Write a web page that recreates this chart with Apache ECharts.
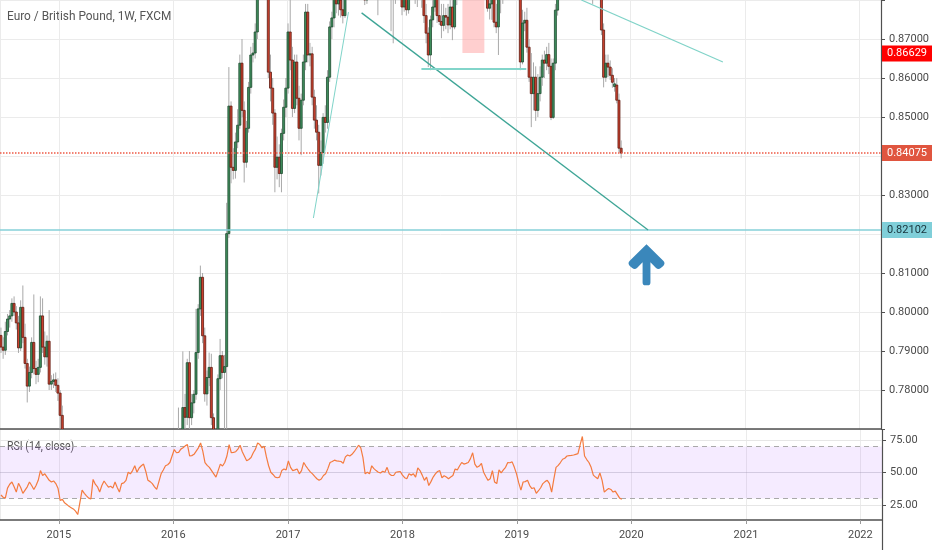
<!DOCTYPE html>
<html>
<head>
<meta charset="utf-8">
<script src="https://cdn.jsdelivr.net/npm/echarts@6/dist/echarts.min.js"></script>
<style>
html,body{margin:0;padding:0;background:#ffffff;}
#chart{width:932px;height:550px;}
</style>
</head>
<body>
<div id="chart"></div>
<script>
// ---------- DATA ----------
// first weekly bar (week starting Monday) ; one bar per week afterwards
const firstWeek = '2014-06-30';
const chartTitle = 'Euro / British Pound, 1W, FXCM';
const rsiTitle = 'RSI (14, close)';

// weekly candles: [open, close, low, high]
const ohlc2014 = [
[0.7940,0.7910,0.7895,0.7960],[0.7910,0.7902,0.7880,0.7935],[0.7902,0.7950,0.7890,0.7975],[0.7950,0.7982,0.7940,0.7995],
[0.7982,0.7990,0.7960,0.8005],[0.7990,0.8022,0.7975,0.8035],[0.8022,0.8000,0.7990,0.8040],[0.8000,0.7972,0.7955,0.8015],
[0.7972,0.7908,0.7895,0.7990],[0.7908,0.8012,0.7900,0.8030],[0.8012,0.7935,0.7920,0.8068],[0.7935,0.7868,0.7855,0.7970],
[0.7868,0.7810,0.7768,0.7880],[0.7810,0.7845,0.7795,0.7860],[0.7845,0.7922,0.7830,0.7935],[0.7922,0.7855,0.7840,0.8045],
[0.7855,0.7840,0.7815,0.7875],[0.7840,0.7858,0.7820,0.7880],[0.7858,0.7990,0.7845,0.8040],[0.7990,0.7910,0.7895,0.8035],
[0.7910,0.7885,0.7865,0.7950],[0.7885,0.7925,0.7860,0.7940],[0.7925,0.7815,0.7800,0.8005],[0.7815,0.7822,0.7800,0.7838],
[0.7822,0.7826,0.7805,0.7842],[0.7826,0.7812,0.7795,0.7845],[0.7812,0.7792,0.7772,0.7830]
];
const ohlc2015 = [
[0.7792,0.7735,0.7690,0.7800],[0.7735,0.7625,0.7600,0.7760],[0.7625,0.7460,0.7435,0.7650],[0.7460,0.7505,0.7410,0.7560],
[0.7505,0.7435,0.7400,0.7520],[0.7435,0.7390,0.7355,0.7455],[0.7390,0.7370,0.7330,0.7420],[0.7370,0.7270,0.7240,0.7385],
[0.7270,0.7195,0.7180,0.7295],[0.7195,0.7100,0.7070,0.7210],[0.7100,0.7330,0.7090,0.7360],[0.7330,0.7330,0.7260,0.7390],
[0.7330,0.7250,0.7200,0.7380],[0.7250,0.7180,0.7140,0.7290],[0.7180,0.7190,0.7090,0.7220],[0.7190,0.7140,0.7120,0.7240],
[0.7140,0.7370,0.7130,0.7400],[0.7370,0.7180,0.7150,0.7410],[0.7180,0.7210,0.7140,0.7310],[0.7210,0.7090,0.7070,0.7230],
[0.7090,0.7150,0.7020,0.7170],[0.7150,0.7260,0.7130,0.7400],[0.7260,0.7220,0.7180,0.7300],[0.7220,0.7140,0.7120,0.7260],
[0.7140,0.7100,0.7070,0.7190],[0.7100,0.7070,0.7050,0.7150],[0.7070,0.7150,0.7040,0.7240],[0.7150,0.6980,0.6960,0.7160],
[0.6980,0.7080,0.6940,0.7100],[0.7080,0.7040,0.7010,0.7120],[0.7040,0.7060,0.7020,0.7100],[0.7060,0.7130,0.7050,0.7170],
[0.7130,0.7280,0.7120,0.7300],[0.7280,0.7280,0.7250,0.7490],[0.7280,0.7360,0.7240,0.7380],[0.7360,0.7320,0.7290,0.7380],
[0.7320,0.7380,0.7260,0.7420],[0.7380,0.7320,0.7310,0.7420],[0.7320,0.7380,0.7300,0.7400],[0.7380,0.7350,0.7300,0.7420],
[0.7350,0.7400,0.7330,0.7490],[0.7400,0.7180,0.7170,0.7420],[0.7180,0.7170,0.7130,0.7240],[0.7170,0.7150,0.7100,0.7210],
[0.7150,0.7060,0.7040,0.7170],[0.7060,0.7040,0.7000,0.7080],[0.7040,0.7060,0.7010,0.7090],[0.7060,0.7250,0.7030,0.7290],
[0.7250,0.7220,0.7190,0.7310],[0.7220,0.7280,0.7200,0.7320],[0.7280,0.7340,0.7260,0.7350],[0.7340,0.7370,0.7300,0.7400]
];
const ohlc2016 = [
[0.7370,0.7450,0.7340,0.7470],[0.7450,0.7600,0.7420,0.7660],[0.7600,0.7610,0.7540,0.7755],[0.7610,0.7640,0.7580,0.7690],
[0.7640,0.7755,0.7610,0.7899],[0.7755,0.7730,0.7700,0.7790],[0.7730,0.7870,0.7710,0.7880],[0.7870,0.7729,0.7700,0.7900],
[0.7729,0.7767,0.7710,0.7790],[0.7767,0.7789,0.7740,0.7800],[0.7789,0.7896,0.7775,0.8008],[0.7896,0.8008,0.7880,0.8020],
[0.8008,0.8089,0.7990,0.8119],[0.8089,0.7939,0.7920,0.8100],[0.7939,0.7790,0.7770,0.7960],[0.7790,0.7832,0.7760,0.7850],
[0.7832,0.7858,0.7810,0.7896],[0.7858,0.7729,0.7710,0.7893],[0.7729,0.7640,0.7600,0.7740],[0.7640,0.7610,0.7560,0.7680],
[0.7610,0.7829,0.7600,0.7840],[0.7829,0.7888,0.7800,0.7931],[0.7888,0.7845,0.7830,0.7900],[0.7845,0.7860,0.7700,0.7890],
[0.7860,0.8201,0.7600,0.8280],[0.8201,0.8528,0.8190,0.8628],[0.8528,0.8371,0.8330,0.8540],[0.8371,0.8363,0.8340,0.8420],
[0.8363,0.8436,0.8342,0.8460],[0.8436,0.8479,0.8420,0.8520],[0.8479,0.8638,0.8470,0.8660],[0.8638,0.8517,0.8500,0.8700],
[0.8517,0.8384,0.8332,0.8540],[0.8384,0.8471,0.8370,0.8490],[0.8471,0.8576,0.8460,0.8590],[0.8576,0.8659,0.8560,0.8680],
[0.8659,0.8664,0.8640,0.8690],[0.8664,0.8718,0.8650,0.8740],[0.8718,0.8960,0.8700,0.9000],[0.8960,0.9010,0.8920,0.9400],
[0.9010,0.8920,0.8880,0.9070],[0.8920,0.9020,0.8900,0.9050],[0.9020,0.8930,0.8860,0.9050],[0.8930,0.8615,0.8600,0.8960],
[0.8615,0.8574,0.8540,0.8660],[0.8574,0.8510,0.8480,0.8600],[0.8510,0.8371,0.8307,0.8520],[0.8371,0.8397,0.8340,0.8450],
[0.8397,0.8355,0.8320,0.8430],[0.8355,0.8458,0.8307,0.8470],[0.8458,0.8525,0.8440,0.8545],[0.8525,0.8574,0.8500,0.8600]
];
const ohlc2017 = [
[0.8574,0.8718,0.8560,0.8740],[0.8718,0.8646,0.8620,0.8850],[0.8646,0.8522,0.8500,0.8680],[0.8522,0.8641,0.8510,0.8660],
[0.8641,0.8548,0.8530,0.8660],[0.8548,0.8471,0.8440,0.8580],[0.8471,0.8543,0.8402,0.8560],[0.8543,0.8641,0.8530,0.8660],
[0.8641,0.8769,0.8620,0.8790],[0.8769,0.8659,0.8640,0.8790],[0.8659,0.8662,0.8630,0.8690],[0.8662,0.8551,0.8530,0.8680],
[0.8551,0.8492,0.8470,0.8570],[0.8492,0.8461,0.8440,0.8530],[0.8461,0.8376,0.8304,0.8480],[0.8376,0.8409,0.8350,0.8440],
[0.8409,0.8499,0.8380,0.8510],[0.8499,0.8486,0.8460,0.8530],[0.8486,0.8602,0.8470,0.8620],[0.8602,0.8731,0.8590,0.8745],
[0.8731,0.8754,0.8700,0.8770],[0.8754,0.8830,0.8730,0.8860],[0.8830,0.8790,0.8766,0.8850],[0.8790,0.8800,0.8760,0.8830],
[0.8800,0.8775,0.8755,0.8830],[0.8775,0.8760,0.8740,0.8810],[0.8760,0.8850,0.8754,0.8870],[0.8850,0.8880,0.8820,0.8900],
[0.8880,0.8860,0.8830,0.8910],[0.8860,0.8900,0.8840,0.8920],[0.8900,0.8950,0.8870,0.8980],[0.8950,0.9060,0.8930,0.9080],
[0.9060,0.9150,0.9030,0.9170],[0.9150,0.9120,0.9060,0.9240],[0.9120,0.8960,0.8920,0.9160],[0.8960,0.8800,0.8787,0.8990],
[0.8800,0.8830,0.8790,0.8870],[0.8830,0.8820,0.8800,0.8880],[0.8820,0.8950,0.8810,0.8970],[0.8950,0.8910,0.8880,0.8990],
[0.8910,0.8900,0.8860,0.8950],[0.8900,0.8880,0.8761,0.8930],[0.8880,0.8870,0.8840,0.8920],[0.8870,0.8920,0.8850,0.8940],
[0.8920,0.8900,0.8870,0.8940],[0.8900,0.8980,0.8880,0.9000],[0.8980,0.8850,0.8820,0.9000],[0.8850,0.8810,0.8720,0.8870],
[0.8810,0.8820,0.8689,0.8850],[0.8820,0.8870,0.8790,0.8890],[0.8870,0.8880,0.8840,0.8910],[0.8880,0.8885,0.8850,0.8920]
];
const ohlc2018 = [
[0.8885,0.8782,0.8761,0.8920],[0.8782,0.8810,0.8770,0.8850],[0.8810,0.8775,0.8760,0.8850],[0.8775,0.8840,0.8765,0.8880],
[0.8840,0.8830,0.8800,0.8900],[0.8830,0.8850,0.8810,0.8890],[0.8850,0.8810,0.8790,0.8880],[0.8810,0.8880,0.8782,0.8900],
[0.8880,0.8850,0.8820,0.8910],[0.8850,0.8810,0.8780,0.8880],[0.8810,0.8760,0.8741,0.8830],[0.8760,0.8715,0.8689,0.8790],
[0.8715,0.8659,0.8628,0.8730],[0.8659,0.8749,0.8620,0.8760],[0.8749,0.8782,0.8730,0.8800],[0.8782,0.8830,0.8770,0.8850],
[0.8830,0.8760,0.8741,0.8850],[0.8760,0.8745,0.8736,0.8800],[0.8745,0.8735,0.8702,0.8790],[0.8735,0.8760,0.8720,0.8790],
[0.8760,0.8756,0.8725,0.8780],[0.8756,0.8736,0.8715,0.8790],[0.8736,0.8782,0.8725,0.8800],[0.8782,0.8731,0.8697,0.8800],
[0.8731,0.8810,0.8725,0.8830],[0.8810,0.8850,0.8787,0.8870],[0.8850,0.8870,0.8830,0.8900],[0.8870,0.8900,0.8850,0.8930],
[0.8900,0.8880,0.8840,0.8930],[0.8880,0.8900,0.8860,0.8940],[0.8900,0.8950,0.8880,0.8970],[0.8950,0.9020,0.8930,0.9050],
[0.9020,0.9090,0.9000,0.9110],[0.9090,0.8990,0.8960,0.9100],[0.8990,0.8960,0.8930,0.9030],[0.8960,0.8990,0.8940,0.9020],
[0.8990,0.9010,0.8950,0.9040],[0.9010,0.8920,0.8890,0.9030],[0.8920,0.8860,0.8830,0.8950],[0.8860,0.8779,0.8770,0.8890],
[0.8779,0.8790,0.8750,0.8830],[0.8790,0.8850,0.8749,0.8870],[0.8850,0.8743,0.8730,0.8870],[0.8743,0.8731,0.8715,0.8790],
[0.8731,0.8830,0.8659,0.8850],[0.8830,0.8810,0.8766,0.8860],[0.8810,0.8870,0.8790,0.8890],[0.8870,0.8920,0.8840,0.8950],
[0.8920,0.8990,0.8890,0.9010],[0.8990,0.8960,0.8940,0.9030],[0.8960,0.9010,0.8940,0.9040],[0.9010,0.8970,0.8940,0.9030],
[0.8970,0.8990,0.8930,0.9010]
];
const ohlc2019 = [
[0.8990,0.8870,0.8840,0.9030],[0.8870,0.8641,0.8620,0.8890],[0.8641,0.8741,0.8635,0.8775],[0.8741,0.8748,0.8720,0.8770],
[0.8748,0.8679,0.8665,0.8780],[0.8679,0.8602,0.8590,0.8700],[0.8602,0.8560,0.8474,0.8664],[0.8560,0.8602,0.8517,0.8640],
[0.8602,0.8517,0.8490,0.8630],[0.8517,0.8560,0.8500,0.8610],[0.8560,0.8602,0.8540,0.8630],[0.8602,0.8646,0.8580,0.8660],
[0.8646,0.8638,0.8600,0.8670],[0.8638,0.8660,0.8620,0.8680],[0.8660,0.8630,0.8610,0.8690],[0.8630,0.8499,0.8492,0.8650],
[0.8499,0.8638,0.8495,0.8650],[0.8638,0.8774,0.8620,0.8790],[0.8774,0.8830,0.8760,0.8850],[0.8830,0.8870,0.8810,0.8890],
[0.8870,0.8900,0.8850,0.8930],[0.8900,0.8920,0.8870,0.8950],[0.8920,0.8960,0.8890,0.8990],[0.8960,0.8970,0.8920,0.9000],
[0.8970,0.8980,0.8930,0.9010],[0.8980,0.8990,0.8940,0.9020],[0.8990,0.9010,0.8950,0.9040],[0.9010,0.9030,0.8970,0.9060],
[0.9030,0.9160,0.9010,0.9180],[0.9160,0.9290,0.9140,0.9325],[0.9290,0.9110,0.9080,0.9300],[0.9110,0.9050,0.9010,0.9150],
[0.9050,0.8990,0.8960,0.9080],[0.8990,0.8900,0.8880,0.9040],[0.8900,0.8820,0.8790,0.8930],[0.8820,0.8840,0.8800,0.8880],
[0.8840,0.8830,0.8800,0.8870],[0.8830,0.8950,0.8815,0.8980],[0.8950,0.8723,0.8710,0.8970],[0.8723,0.8602,0.8576,0.8740],
[0.8602,0.8638,0.8590,0.8660],[0.8638,0.8628,0.8602,0.8660],[0.8628,0.8607,0.8595,0.8645],[0.8607,0.8589,0.8575,0.8625],
[0.8578,0.8585,0.8565,0.8600],[0.8582,0.8543,0.8535,0.8600],[0.8543,0.8420,0.8410,0.8560],[0.8420,0.84075,0.8394,0.8440]
];

// RSI(14, close), one value per weekly bar
const rsi2014 = [32.7,31.0,30.3,38.0,41.0,42.7,39.0,35.0,41.7,38.5,34.0,36.5,39.0,42.7,40.0,37.0,40.0,44.0,51.5,47.7,49.0,46.5,44.0,42.7,43.5,41.5,38.0];
const rsi2015 = [28.5,29.5,26.7,25.5,24.0,23.0,22.0,20.3,17.7,27.0,36.5,34.0,32.0,30.3,29.7,44.7,41.0,39.0,35.0,40.0,43.5,41.0,38.7,39.5,38.0,42.7,
                 38.5,35.0,41.5,42.0,44.0,50.2,49.0,51.5,55.2,50.2,53.5,55.2,56.5,51.0,44.0,43.0,41.5,39.0,37.0,43.0,49.0,52.0,55.2,56.0,57.7,62.7];
const rsi2016 = [67.7,65.2,65.5,68.0,69.0,70.5,71.5,62.7,63.0,64.0,66.5,69.0,72.7,66.5,57.7,55.5,54.0,51.5,49.0,46.5,51.5,56.5,55.0,57.7,
                 62.7,71.5,65.2,65.5,66.0,68.0,71.0,66.0,62.5,59.0,60.0,61.5,65.2,68.0,72.7,71.5,69.0,70.2,62.0,55.2,50.2,48.5,46.5,46.0,46.5,51.5,52.7,52.0];
const rsi2017 = [59.0,54.0,51.5,52.0,52.7,49.0,51.5,57.7,55.0,52.7,50.5,49.0,47.0,45.2,44.0,45.0,47.7,49.0,53.0,57.7,58.5,59.5,59.0,58.7,58.5,57.0,
                 62.0,63.5,62.7,64.0,66.0,68.5,71.0,69.0,61.5,49.0,50.2,49.0,55.2,53.0,51.5,50.2,49.7,51.0,50.2,54.0,49.0,47.7,47.7,50.2,50.5,50.8];
const rsi2018 = [48.0,46.0,45.2,49.0,48.0,49.0,46.5,53.5,51.5,48.0,44.0,46.5,40.0,43.0,46.5,49.0,50.8,51.5,46.0,47.5,46.5,45.2,46.5,47.7,52.7,52.0,
                 55.0,57.7,56.5,57.0,57.7,60.7,65.2,56.5,54.0,55.0,57.0,50.2,47.0,44.0,45.2,51.5,42.7,41.5,52.0,49.7,52.0,54.0,57.7,57.5,58.2,54.0,49.0];
const rsi2019 = [42.0,36.5,42.7,43.0,44.0,40.0,37.7,38.3,34.0,36.0,38.3,41.5,43.0,44.0,41.5,35.0,45.0,54.0,55.5,57.7,60.2,61.0,62.7,63.0,
                 63.2,63.5,64.0,64.5,71.5,77.7,62.7,60.0,57.7,54.0,48.0,46.5,45.2,49.7,44.0,35.0,36.5,37.7,37.0,35.0,35.7,33.0,30.3,29.5];

// axis ranges and tick labels
const timeRange = ['2014-06-27', '2022-03-11'];
const priceRange = [0.77, 0.88];
const priceStep = 0.01;
const priceLabelsHidden = [0.77, 0.82, 0.84, 0.88];
const rsiRange = [13.5, 82.7];
const rsiTicks = [25, 50, 75];
const rsiBand = [30, 70];

// price level markers
const levelSupport = 0.82102;
const levelLast = 0.84075;
const levelMark = 0.86629;

// drawings (date, price)
const trendRising = [['2017-03-24', 0.8241], ['2017-07-14', 0.8769]];
const trendFalling = [['2017-08-25', 0.8767], ['2020-02-26', 0.82102]];
const trendFlat = [['2018-03-04', 0.8624], ['2019-02-02', 0.8624]];
const trendUpper = [['2019-07-28', 0.8800], ['2020-10-22', 0.8641]];
const boxZone = [['2018-07-13', 0.8664], ['2018-09-21', 0.8800]];
const arrowAt = ['2020-02-21', 0.8121];

// ---------- BUILD ----------
const DAY = 86400000;
const ohlc = [].concat(ohlc2014, ohlc2015, ohlc2016, ohlc2017, ohlc2018, ohlc2019);
const rsi = [].concat(rsi2014, rsi2015, rsi2016, rsi2017, rsi2018, rsi2019);
const t0 = Date.parse(firstWeek + 'T00:00:00Z');
const weeks = ohlc.map((d, i) => t0 + i * 7 * DAY);
const candleData = ohlc.map((d, i) => [weeks[i], d[0], d[1], d[2], d[3]]);
const rsiData = rsi.map((v, i) => [weeks[i], v]);
const ts = s => Date.parse(s + 'T00:00:00Z');
const xMin = ts(timeRange[0]), xMax = ts(timeRange[1]);

const FONT = 'Roboto, "Liberation Sans", sans-serif';
const AXIS_COLOR = '#505050';
const GRID_COLOR = '#ebebeb';
const TEXT_COLOR = '#4a4a4a';
const UP_FILL = '#3f8f5d', UP_EDGE = '#1d4a2e';
const DN_FILL = '#cf4330', DN_EDGE = '#5e1a10';
const WICK = '#a9a9a9';

function yearFmt(v) {
  const d = new Date(v);
  return (d.getUTCMonth() === 0 && d.getUTCDate() === 1) ? String(d.getUTCFullYear()) : '';
}
function seg(pair, color, width) {
  return [
    { coord: [ts(pair[0][0]), pair[0][1]], lineStyle: { color: color, width: width, type: 'solid' }, label: { show: false } },
    { coord: [ts(pair[1][0]), pair[1][1]] }
  ];
}
function levelLabel(bg, fg) {
  return { show: true, position: 'end', distance: 1, formatter: p => p.value.toFixed(5),
           backgroundColor: bg, color: fg, fontSize: 11, fontFamily: FONT, padding: [3, 6, 2, 5] };
}
function renderCandle(params, api) {
  const x = api.value(0), o = api.value(1), c = api.value(2), lo = api.value(3), hi = api.value(4);
  const pO = api.coord([x, o]), pC = api.coord([x, c]), pL = api.coord([x, lo]), pH = api.coord([x, hi]);
  const w = 2;
  const top = Math.min(pO[1], pC[1]);
  const h = Math.max(Math.abs(pO[1] - pC[1]), 0.8);
  const up = c >= o;
  return {
    type: 'group',
    children: [
      { type: 'line', shape: { x1: pL[0], y1: pL[1], x2: pH[0], y2: pH[1] }, style: { stroke: WICK, lineWidth: 1 } },
      { type: 'rect', shape: { x: pO[0] - w / 2, y: top, width: w, height: h },
        style: { fill: up ? UP_FILL : DN_FILL, stroke: up ? UP_EDGE : DN_EDGE, lineWidth: 0.8 } }
    ]
  };
}

const arrowPath = 'path://M50,0 L97,46 Q104,53 97,60 L90,66 Q83,72 76,65 L61,50 L61,106 Q61,114 53,114 L47,114 Q39,114 39,106 L39,50 L24,65 Q17,72 10,66 L3,60 Q-4,53 3,46 Z';

const chart = echarts.init(document.getElementById('chart'), null, { renderer: 'canvas' });
chart.setOption({
  animation: false,
  useUTC: true,
  backgroundColor: '#ffffff',
  textStyle: { fontFamily: FONT },
  grid: [
    { left: 0, right: 50, top: 0, height: 429 },
    { left: 0, right: 50, top: 430, height: 90 }
  ],
  xAxis: [
    { type: 'time', gridIndex: 0, min: xMin, max: xMax,
      minInterval: 366 * DAY, maxInterval: 400 * DAY,
      axisLine: { show: true, lineStyle: { color: AXIS_COLOR, width: 1.5 } },
      axisTick: { show: false }, axisLabel: { show: false },
      splitLine: { show: true, lineStyle: { color: GRID_COLOR, width: 1 } } },
    { type: 'time', gridIndex: 1, min: xMin, max: xMax,
      minInterval: 366 * DAY, maxInterval: 400 * DAY,
      axisLine: { show: true, lineStyle: { color: AXIS_COLOR, width: 1.5 } },
      axisTick: { show: true, length: 4, lineStyle: { color: '#9a9a9a' } },
      axisLabel: { show: true, formatter: yearFmt, color: TEXT_COLOR, fontSize: 11, fontFamily: FONT, margin: 10,
                   showMinLabel: false, showMaxLabel: false },
      splitLine: { show: true, lineStyle: { color: GRID_COLOR, width: 1 } } }
  ],
  yAxis: [
    { type: 'value', gridIndex: 0, position: 'right', min: priceRange[0], max: priceRange[1], interval: priceStep,
      axisLine: { show: true, lineStyle: { color: AXIS_COLOR, width: 1.2 } },
      axisTick: { show: true, length: 4, lineStyle: { color: AXIS_COLOR } },
      axisLabel: { color: TEXT_COLOR, fontSize: 11, fontFamily: FONT, margin: 8,
                   formatter: v => priceLabelsHidden.some(h => Math.abs(h - v) < 1e-6) ? '' : v.toFixed(5) },
      splitLine: { show: true, lineStyle: { color: GRID_COLOR, width: 1 } } },
    { type: 'value', gridIndex: 1, position: 'right', min: rsiRange[0], max: rsiRange[1],
      axisLine: { show: true, lineStyle: { color: AXIS_COLOR, width: 1.2 } },
      axisTick: { show: true, length: 4, customValues: rsiTicks, lineStyle: { color: AXIS_COLOR } },
      axisLabel: { customValues: rsiTicks, color: TEXT_COLOR, fontSize: 11, fontFamily: FONT, margin: 8,
                   formatter: v => Number(v).toFixed(2) },
      splitLine: { show: false } }
  ],
  series: [
    { name: 'EURGBP', type: 'custom', xAxisIndex: 0, yAxisIndex: 0, data: candleData, clip: true,
      encode: { x: 0, y: [1, 2, 3, 4] }, renderItem: renderCandle, silent: true,
      markArea: { silent: true, itemStyle: { color: 'rgba(255,160,160,0.5)' },
        data: [[ { coord: [ts(boxZone[0][0]), boxZone[0][1]] }, { coord: [ts(boxZone[1][0]), boxZone[1][1]] } ]] },
      markLine: { silent: true, symbol: 'none', animation: false, precision: 5,
        data: [
          { yAxis: levelSupport, lineStyle: { color: '#86d0d8', width: 1.5, type: 'solid' }, label: levelLabel('#80cfd9', '#16323a') },
          { yAxis: levelLast, lineStyle: { color: '#ee5a45', width: 1.5, type: 'dotted' }, label: levelLabel('#e0553f', '#ffffff') },
          { yAxis: levelMark, lineStyle: { color: 'rgba(255,0,0,0)', width: 1, type: 'solid' }, label: levelLabel('#ff0000', '#ffffff') },
          seg(trendRising, '#7fd4c9', 1),
          seg(trendFalling, '#3ea596', 1.3),
          seg(trendFlat, '#82d5ca', 2),
          seg(trendUpper, '#80d3c8', 1.2)
        ] },
      markPoint: { silent: true, animation: false,
        data: [ { coord: [ts(arrowAt[0]), arrowAt[1]], symbol: arrowPath, symbolSize: [36, 41], symbolKeepAspect: false,
                  itemStyle: { color: '#3a87bb' }, label: { show: false } } ] } },
    { name: 'RSI', type: 'line', xAxisIndex: 1, yAxisIndex: 1, data: rsiData, showSymbol: false, symbol: 'none',
      lineStyle: { color: '#f47b3f', width: 1.2 }, silent: true, z: 5,
      markArea: { silent: true, itemStyle: { color: 'rgba(156,60,255,0.1)' },
        data: [[ { yAxis: rsiBand[0] }, { yAxis: rsiBand[1] } ]] },
      markLine: { silent: true, symbol: 'none', label: { show: false },
        data: [
          { yAxis: rsiTicks[2], lineStyle: { color: '#e6e6e6', width: 1, type: 'solid' } },
          { yAxis: rsiTicks[0], lineStyle: { color: '#e6e6e6', width: 1, type: 'solid' } },
          { yAxis: rsiTicks[1], lineStyle: { color: 'rgba(150,140,170,0.35)', width: 1, type: 'solid' } },
          { yAxis: rsiBand[1], lineStyle: { color: '#a9a9a9', width: 1, type: [5, 4] } },
          { yAxis: rsiBand[0], lineStyle: { color: '#a9a9a9', width: 1, type: [5, 4] } }
        ] } }
  ],
  graphic: [
    { type: 'text', left: 7, top: 10, silent: true, scaleX: 0.88,
      style: { text: chartTitle, fill: '#555555', fontSize: 13.5, fontFamily: FONT } },
    { type: 'text', left: 7, top: 441, silent: true, scaleX: 0.88,
      style: { text: rsiTitle, fill: '#555555', fontSize: 12, fontFamily: FONT } },
    { type: 'line', silent: true, shape: { x1: 882.5, y1: 520, x2: 882.5, y2: 550 }, style: { stroke: AXIS_COLOR, lineWidth: 1.2 } }
  ]
});
</script>
</body>
</html>
